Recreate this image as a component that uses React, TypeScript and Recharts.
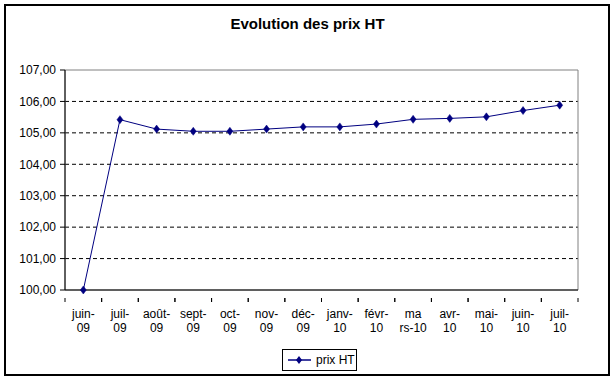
import { LineChart, Line, XAxis, YAxis, CartesianGrid, Legend, ReferenceArea } from "recharts";

const months = [
  "juin-\n09", "juil-\n09", "août-\n09", "sept-\n09", "oct-\n09", "nov-\n09", "déc-\n09",
  "janv-\n10", "févr-\n10", "ma\nrs-10", "avr-\n10", "mai-\n10", "juin-\n10", "juil-\n10",
];
const prixHT = [100.0, 105.42, 105.12, 105.05, 105.05, 105.12, 105.19, 105.19, 105.28, 105.43, 105.46, 105.51, 105.71, 105.88];
const yTicks = [100, 101, 102, 103, 104, 105, 106, 107];
const gridValues = [101, 102, 103, 104, 105, 106];

const data = months.map((m, i) => ({ m, prix: prixHT[i] }));

const FONT = "Arial, 'Liberation Sans', sans-serif";
const NAVY = "#000080";

const fmt = (v: number) => v.toFixed(2).replace(".", ",");

function Diamond(props: any) {
  const { cx, cy } = props;
  if (cx == null || cy == null) return null;
  return (
    <polygon
      points={`${cx},${cy - 4} ${cx + 3},${cy} ${cx},${cy + 4} ${cx - 3},${cy}`}
      fill={NAVY}
      stroke={NAVY}
      strokeWidth={0.5}
    />
  );
}

function MonthTick(props: any) {
  const { x, y, payload, width } = props;
  const band = (width || 513) / months.length;
  const lines = String(payload.value).split("\n");
  return (
    <g>
      <line x1={x - band / 2} y1={y} x2={x - band / 2} y2={y + 4} stroke="#000" />
      <line x1={x + band / 2} y1={y} x2={x + band / 2} y2={y + 4} stroke="#000" />
      <text x={x} y={y + 20} textAnchor="middle" fontSize={12} fontFamily={FONT} fill="#000">
        {lines.map((l, i) => (
          <tspan key={i} x={x} dy={i === 0 ? 0 : 14}>
            {l}
          </tspan>
        ))}
      </text>
    </g>
  );
}

function LegendBox() {
  return (
    <div
      style={{
        border: "1px solid #000",
        width: 75,
        height: 22,
        boxSizing: "border-box",
        display: "flex",
        alignItems: "center",
        fontFamily: FONT,
        fontSize: 12,
        background: "#fff",
      }}
    >
      <svg width={30} height={20}>
        <line x1={5} y1={10} x2={28} y2={10} stroke={NAVY} strokeWidth={1.5} />
        <polygon points="16,6 19,10 16,14 13,10" fill={NAVY} />
      </svg>
      <span style={{ marginLeft: 3 }}>prix HT</span>
    </div>
  );
}

export default function App() {
  return (
    <div style={{ position: "absolute", left: 0, top: 0, width: 615, height: 381, background: "#fff" }}>
      <div
        style={{
          position: "absolute",
          left: 4,
          top: 4,
          width: 606,
          height: 372,
          border: "2px solid #000",
          boxSizing: "border-box",
        }}
      />
      <div
        style={{
          position: "absolute",
          top: 15,
          left: 0,
          width: 615,
          textAlign: "center",
          fontFamily: FONT,
          fontWeight: "bold",
          fontSize: 15,
        }}
      >
        Evolution des prix HT
      </div>
      <LineChart
        width={615}
        height={381}
        data={data}
        margin={{ top: 70, right: 37, left: 0, bottom: 0 }}
        style={{ position: "absolute", left: 0, top: 0 }}
      >
        <CartesianGrid vertical={false} horizontalValues={gridValues} stroke="#000" strokeDasharray="4 3" />
        <ReferenceArea
          x1={months[0]}
          x2={months[months.length - 1]}
          y1={100}
          y2={107}
          fill="none"
          stroke="#808080"
          fillOpacity={0}
        />
        <XAxis
          dataKey="m"
          scale="band"
          interval={0}
          height={91}
          tick={<MonthTick />}
          tickLine={false}
          axisLine={{ stroke: "#000" }}
        />
        <YAxis
          domain={[100, 107]}
          ticks={yTicks}
          width={65}
          tickSize={5}
          tickMargin={4}
          tickFormatter={fmt}
          tick={{ fontSize: 12, fontFamily: FONT, fill: "#000" }}
          tickLine={{ stroke: "#000" }}
          axisLine={{ stroke: "#000" }}
        />
        <Legend
          layout="horizontal"
          verticalAlign="middle"
          align="center"
          content={<LegendBox />}
          wrapperStyle={{ top: 349, left: 282, width: 75, height: 22 }}
        />
        <Line
          dataKey="prix"
          name="prix HT"
          stroke={NAVY}
          strokeWidth={1}
          dot={<Diamond />}
          activeDot={false}
          isAnimationActive={false}
        />
      </LineChart>
    </div>
  );
}
